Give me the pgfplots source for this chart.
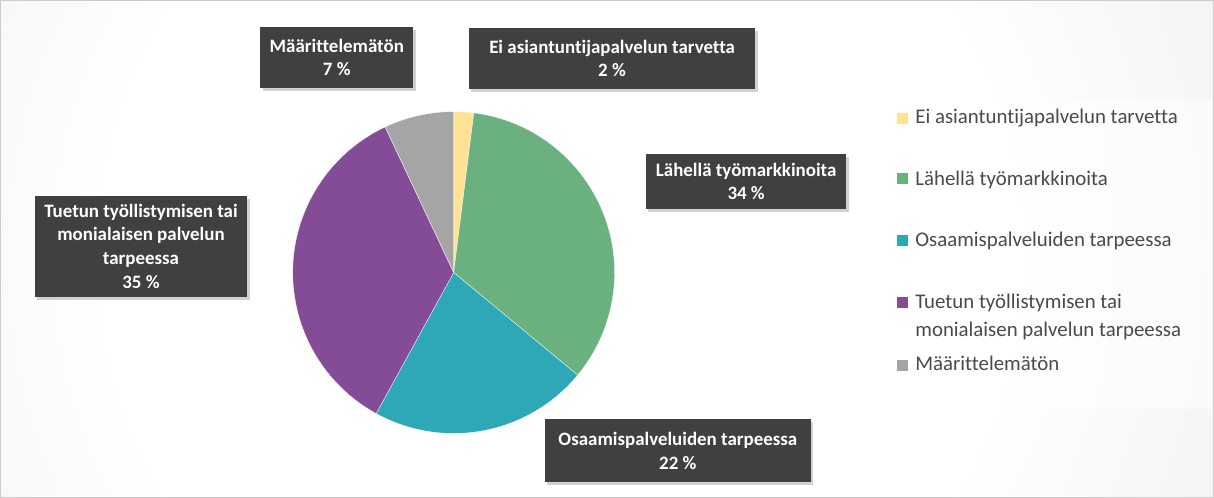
\documentclass[border=0pt]{standalone}
\usepackage{pgfplots}
\usepackage{pgfplotstable}
\pgfplotsset{compat=1.18}
\usepackage{fontspec}
\setmainfont{Carlito}[Ligatures={NoCommon}]
\usetikzlibrary{shadows}
\definecolor{cY}{HTML}{FFE394}
\definecolor{cG}{HTML}{6AB17F}
\definecolor{cT}{HTML}{2EA8B6}
\definecolor{cP}{HTML}{844C96}
\definecolor{cM}{HTML}{A5A5A5}
\definecolor{lbl}{HTML}{404040}
\definecolor{legtxt}{HTML}{4A4A4A}
\definecolor{g1}{HTML}{F0F0F0}
\definecolor{g2}{HTML}{D4D4D4}
\definecolor{g3}{HTML}{C3C3C3}
\definecolor{g4}{HTML}{C0C0C0}
\pgfdeclareradialshading{bgshade}{\pgfpoint{0bp}{0bp}}{color(0bp)=(white); color(16bp)=(white); color(28bp)=(g1); color(40bp)=(g2); color(45bp)=(g3); color(75bp)=(g4)}
\pgfplotstableread{
value
2
34
22
35
7
}\piedata
\pgfplotstablegetelem{0}{value}\of\piedata \let\vA\pgfplotsretval
\pgfplotstablegetelem{1}{value}\of\piedata \let\vB\pgfplotsretval
\pgfplotstablegetelem{2}{value}\of\piedata \let\vC\pgfplotsretval
\pgfplotstablegetelem{3}{value}\of\piedata \let\vD\pgfplotsretval
\pgfplotstablegetelem{4}{value}\of\piedata \let\vE\pgfplotsretval
\pgfmathsetmacro\aA{90}
\pgfmathsetmacro\aB{\aA-3.6*\vA}
\pgfmathsetmacro\aC{\aB-3.6*\vB}
\pgfmathsetmacro\aD{\aC-3.6*\vC}
\pgfmathsetmacro\aE{\aD-3.6*\vD}
\pgfmathsetmacro\aF{\aE-3.6*\vE}
\begin{document}
\begin{tikzpicture}
\begin{axis}[
  scale only axis, width=1214pt, height=506pt,
  xmin=0, xmax=1214, ymin=0, ymax=506,
  hide axis, clip=false]
% background
\begin{scope}
\clip (axis cs:7,8) rectangle (axis cs:1206,499);
\fill[shading=bgshade] (axis cs:-140,-454) rectangle (axis cs:1260,946);
\end{scope}
\draw[white!80!black, line width=0.6pt] (axis cs:7,8) rectangle (axis cs:1206,499);
% pie
\def\R{159pt}
\fill[cY, draw=white, line width=0.3pt] (axis cs:455,230) -- ++(\aA:\R) arc[start angle=\aA, end angle=\aB, radius=\R] -- cycle;
\fill[cG, draw=white, line width=0.3pt] (axis cs:455,230) -- ++(\aB:\R) arc[start angle=\aB, end angle=\aC, radius=\R] -- cycle;
\fill[cT, draw=white, line width=0.3pt] (axis cs:455,230) -- ++(\aC:\R) arc[start angle=\aC, end angle=\aD, radius=\R] -- cycle;
\fill[cP, draw=white, line width=0.3pt] (axis cs:455,230) -- ++(\aD:\R) arc[start angle=\aD, end angle=\aE, radius=\R] -- cycle;
\fill[cM, draw=white, line width=0.3pt] (axis cs:455,230) -- ++(\aE:\R) arc[start angle=\aE, end angle=\aF, radius=\R] -- cycle;
% data labels
\tikzset{dl/.style={fill=lbl, text=white, font=\bfseries\fontsize{18.7}{23.5}\selectfont, align=center, inner sep=0pt,
  drop shadow={opacity=0.35, shadow xshift=2.5pt, shadow yshift=-3pt}}}
\node[dl, minimum width=151pt, minimum height=61pt] at (axis cs:339.5,442.5) {Määrittelemätön\\7 \%};
\node[dl, minimum width=283pt, minimum height=61pt] at (axis cs:611.5,441.5) {Ei asiantuntijapalvelun tarvetta\\2 \%};
\node[dl, minimum width=198pt, minimum height=54pt] at (axis cs:744,320) {Lähellä työmarkkinoita\\34 \%};
\node[dl, minimum width=210pt, minimum height=100pt] at (axis cs:146,256) {Tuetun työllistymisen tai\\monialaisen palvelun\\tarpeessa\\35 \%};
\node[dl, minimum width=263pt, minimum height=62pt] at (axis cs:676.5,54) {Osaamispalveluiden tarpeessa\\22 \%};
% legend
\fill[white, opacity=0.5] (axis cs:870,401) rectangle (axis cs:1204,95);
\tikzset{lt/.style={anchor=base west, inner sep=0pt, text=legtxt, font=\fontsize{20.6}{27}\selectfont}}
\fill[cY] (axis cs:893,377) rectangle (axis cs:904,388);
\node[lt] at (axis cs:911,377) {Ei asiantuntijapalvelun tarvetta};
\fill[cG] (axis cs:893,317) rectangle (axis cs:904,328);
\node[lt] at (axis cs:911,316) {Lähellä työmarkkinoita};
\fill[cT] (axis cs:893,256) rectangle (axis cs:904,267);
\node[lt] at (axis cs:911,256) {Osaamispalveluiden tarpeessa};
\fill[cP] (axis cs:893,195) rectangle (axis cs:904,206);
\node[lt] at (axis cs:911,194) {Tuetun työllistymisen tai};
\node[lt] at (axis cs:911,167) {monialaisen palvelun tarpeessa};
\fill[cM] (axis cs:893,133) rectangle (axis cs:904,144);
\node[lt] at (axis cs:911,133) {Määrittelemätön};
\end{axis}
\end{tikzpicture}
\end{document}
